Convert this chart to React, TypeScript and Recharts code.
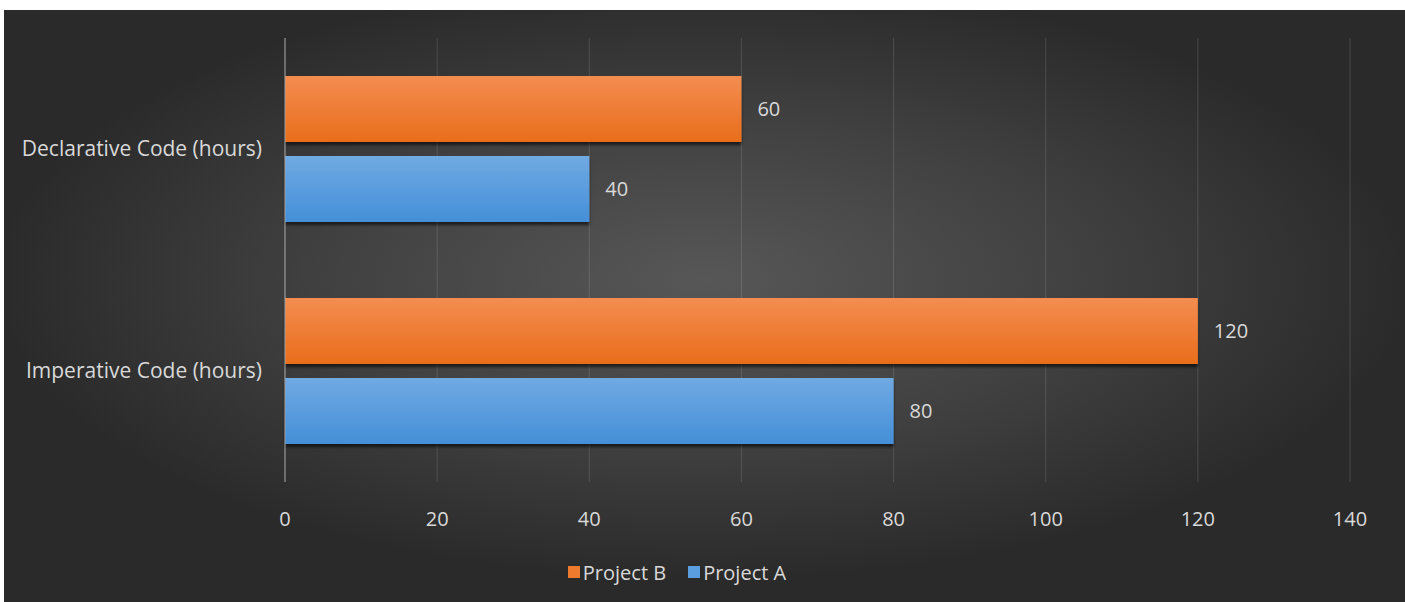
import { Bar, BarChart, CartesianGrid, LabelList, Legend, XAxis, YAxis } from "recharts";

const categories = ["Declarative Code (hours)", "Imperative Code (hours)"];
const projectB = [60, 120];
const projectA = [40, 80];
const xTicks = [0, 20, 40, 60, 80, 100, 120, 140];

const data = categories.map((name, i) => ({ name, projectB: projectB[i], projectA: projectA[i] }));

const TEXT = "#d9d9d9";
const FONT = "'Open Sans', sans-serif";

function LegendBox() {
  const items = [
    { label: "Project B", color: "#ee7a2e" },
    { label: "Project A", color: "#5a9ee0" },
  ];
  return (
    <div style={{ display: "flex", justifyContent: "center", gap: 22, height: 24, alignItems: "center", fontFamily: FONT, fontSize: 20, color: TEXT }}>
      {items.map((it) => (
        <div key={it.label} style={{ display: "flex", alignItems: "center", gap: 3 }}>
          <span style={{ width: 12, height: 12, background: it.color, display: "inline-block" }} />
          <span>{it.label}</span>
        </div>
      ))}
    </div>
  );
}

export default function App() {
  return (
    <>
      <style>{"html,body{overflow:hidden}"}</style>
      <div
        style={{
          position: "absolute",
          left: 4,
          top: 10,
          width: 1420,
          height: 600,
          background: "radial-gradient(ellipse 710px 300px at 700px 270px, #575757 0%, #404040 55%, #2a2a2a 100%)",
        }}
      >
        <BarChart
          width={1401}
          height={592}
          data={data}
          layout="vertical"
          margin={{ top: 28, right: 55, bottom: 18, left: 0 }}
          barCategoryGap={38}
          barGap={14}
        >
          <defs>
            <linearGradient id="gB" x1="0" y1="0" x2="0" y2="1">
              <stop offset="0%" stopColor="#f38d50" />
              <stop offset="100%" stopColor="#e96d1b" />
            </linearGradient>
            <linearGradient id="gA" x1="0" y1="0" x2="0" y2="1">
              <stop offset="0%" stopColor="#70aae3" />
              <stop offset="100%" stopColor="#448fd8" />
            </linearGradient>
            <filter id="sh" x="-5%" y="-20%" width="110%" height="150%">
              <feDropShadow dx="0" dy="3" stdDeviation="1.5" floodColor="#000" floodOpacity="0.6" />
            </filter>
          </defs>
          <CartesianGrid horizontal={false} stroke="rgba(255,255,255,0.13)" />
          <XAxis
            type="number"
            domain={[0, 140]}
            ticks={xTicks}
            axisLine={false}
            tickLine={false}
            tickSize={0}
            tickMargin={30}
            height={78}
            tick={{ fill: TEXT, fontSize: 20, fontFamily: FONT }}
          />
          <YAxis
            type="category"
            dataKey="name"
            width={281}
            axisLine={{ stroke: "#a0a0a0" }}
            tickLine={false}
            tickSize={0}
            tickMargin={23}
            tick={{ fill: TEXT, fontSize: 21, fontFamily: FONT }}
          />
          <Legend verticalAlign="bottom" content={() => <LegendBox />} />
          <Bar dataKey="projectB" name="Project B" fill="url(#gB)" filter="url(#sh)" isAnimationActive={false}>
            <LabelList dataKey="projectB" position="right" offset={16} fill={TEXT} fontSize={20} fontFamily={FONT} />
          </Bar>
          <Bar dataKey="projectA" name="Project A" fill="url(#gA)" filter="url(#sh)" isAnimationActive={false}>
            <LabelList dataKey="projectA" position="right" offset={16} fill={TEXT} fontSize={20} fontFamily={FONT} />
          </Bar>
        </BarChart>
      </div>
    </>
  );
}
